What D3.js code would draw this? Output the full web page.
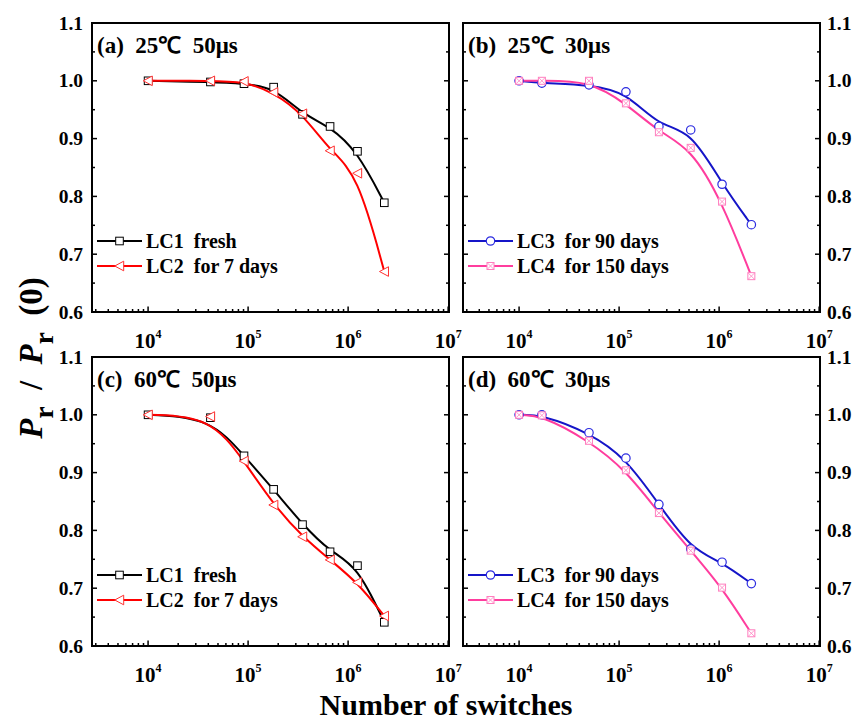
<!DOCTYPE html>
<html>
<head>
  <meta charset="UTF-8">
  <title>Pr / Pr(0) vs switches</title>
  <script src="https://d3js.org/d3.v7.min.js"></script>
  <style>
    body { margin: 0; background: #fff; }
    svg text { font-family: "Liberation Serif", "Times New Roman", serif; font-weight: bold; fill: #000; }
    .frame { fill: none; stroke: #000; stroke-width: 2; }
    .tick { stroke: #000; stroke-width: 1.5; }
  </style>
</head>
<body>
  <div id="chart"></div>
  <script>
    // data
    const switchesA = [1e4, 4.2e4, 9.1e4, 1.8e5, 3.5e5, 6.6e5, 1.24e6, 2.3e6];
    const switchesB = [1e4, 1.69e4, 5e4, 1.17e5, 2.5e5, 5.2e5, 1.07e6, 2.1e6];

    const lc1A = [1.000, 0.998, 0.995, 0.989, 0.942, 0.921, 0.878, 0.789];
    const lc2A = [1.000, 1.000, 0.999, 0.980, 0.943, 0.879, 0.840, 0.670];
    const lc3B = [1.000, 0.996, 0.993, 0.981, 0.921, 0.915, 0.821, 0.751];
    const lc4B = [1.000, 1.000, 1.000, 0.961, 0.911, 0.884, 0.791, 0.662];
    const lc1C = [1.000, 0.995, 0.929, 0.871, 0.810, 0.763, 0.739, 0.641];
    const lc2C = [1.000, 0.997, 0.920, 0.844, 0.789, 0.749, 0.710, 0.652];
    const lc3D = [1.000, 1.000, 0.969, 0.925, 0.845, 0.768, 0.745, 0.708];
    const lc4D = [1.000, 0.999, 0.955, 0.904, 0.830, 0.765, 0.701, 0.622];

    const xMajor = [1e4, 1e5, 1e6, 1e7];
    const xMajorExp = ["4", "5", "6", "7"];
    const yMajor = [0.6, 0.7, 0.8, 0.9, 1.0, 1.1];

    const panelTitles = ["(a)  25\u2103  50\u03bcs", "(b)  25\u2103  30\u03bcs", "(c)  60\u2103  50\u03bcs", "(d)  60\u2103  30\u03bcs"];
    const legendNames = ["LC1  fresh", "LC2  for 7 days", "LC3  for 90 days", "LC4  for 150 days"];

    const W = 854, H = 724;
    const cols = [92, 463], colW = 357;
    const rows = [23, 357], rowH = 289;

    const styles = {
      lc1: { color: "#000000", mark: "#000000", shape: "square" },
      lc2: { color: "#ff0000", mark: "#ff3030", shape: "triangle" },
      lc3: { color: "#1515c8", mark: "#2a2ae0", shape: "circle" },
      lc4: { color: "#ff3d9e", mark: "#ff7fbf", shape: "xsquare" }
    };

    const panels = [
      { col: 0, row: 0, title: panelTitles[0], side: "left",
        series: [{ key: "lc1", name: legendNames[0], x: switchesA, y: lc1A }, { key: "lc2", name: legendNames[1], x: switchesA, y: lc2A }] },
      { col: 1, row: 0, title: panelTitles[1], side: "right",
        series: [{ key: "lc3", name: legendNames[2], x: switchesB, y: lc3B }, { key: "lc4", name: legendNames[3], x: switchesB, y: lc4B }] },
      { col: 0, row: 1, title: panelTitles[2], side: "left",
        series: [{ key: "lc1", name: legendNames[0], x: switchesA, y: lc1C }, { key: "lc2", name: legendNames[1], x: switchesA, y: lc2C }] },
      { col: 1, row: 1, title: panelTitles[3], side: "right",
        series: [{ key: "lc3", name: legendNames[2], x: switchesB, y: lc3D }, { key: "lc4", name: legendNames[3], x: switchesB, y: lc4D }] }
    ];

    const svg = d3.select("#chart").append("svg")
      .attr("width", W).attr("height", H);

    const drawMarker = (g, shape, cx, cy, color) => {
      if (shape === "square") {
        g.append("rect").attr("x", cx - 3.8).attr("y", cy - 3.8).attr("width", 7.6).attr("height", 7.6)
          .attr("fill", "#fff").attr("stroke", color).attr("stroke-width", 1);
      } else if (shape === "triangle") {
        g.append("path").attr("d", `M${cx - 4.8},${cy} L${cx + 4.2},${cy - 4.8} L${cx + 4.2},${cy + 4.8} Z`)
          .attr("fill", "#fff").attr("stroke", color).attr("stroke-width", 1);
      } else if (shape === "circle") {
        g.append("circle").attr("cx", cx).attr("cy", cy).attr("r", 4.2)
          .attr("fill", "#fff").attr("stroke", color).attr("stroke-width", 1.2);
      } else {
        g.append("rect").attr("x", cx - 3.5).attr("y", cy - 3.5).attr("width", 7).attr("height", 7)
          .attr("fill", "#fff").attr("stroke", color).attr("stroke-width", 1);
        g.append("path").attr("d", `M${cx - 3},${cy - 3} L${cx + 3},${cy + 3} M${cx - 3},${cy + 3} L${cx + 3},${cy - 3}`)
          .attr("stroke", color).attr("stroke-width", 0.8);
      }
    };

    panels.forEach(p => {
      const x0 = cols[p.col], y0 = rows[p.row];
      const x = d3.scaleLog().domain([2750, 1.02e7]).range([x0, x0 + colW]);
      const y = d3.scaleLinear().domain([0.6, 1.1]).range([y0 + rowH, y0]);
      const g = svg.append("g");

      // ticks: y major + minor on both sides, inward
      const yMinor = d3.range(0.65, 1.1, 0.1);
      [x0, x0 + colW].forEach((ax, k) => {
        const dir = k === 0 ? 1 : -1;
        yMajor.forEach(v => g.append("line").attr("class", "tick")
          .attr("x1", ax).attr("x2", ax + dir * 5).attr("y1", y(v)).attr("y2", y(v)));
        yMinor.forEach(v => g.append("line").attr("class", "tick")
          .attr("x1", ax).attr("x2", ax + dir * 3).attr("y1", y(v)).attr("y2", y(v)));
      });

      // x ticks on bottom, inward
      const yb = y0 + rowH;
      const minor = [];
      [1e3, 1e4, 1e5, 1e6].forEach(d => d3.range(2, 10).forEach(m => {
        const v = d * m;
        if (v > x.domain()[0] && v < x.domain()[1]) minor.push(v);
      }));
      minor.forEach(v => g.append("line").attr("class", "tick")
        .attr("x1", x(v)).attr("x2", x(v)).attr("y1", yb).attr("y2", yb - 3));
      xMajor.forEach(v => g.append("line").attr("class", "tick")
        .attr("x1", x(v)).attr("x2", x(v)).attr("y1", yb).attr("y2", yb - 5.5));

      // x tick labels
      xMajor.forEach((v, i) => {
        const t = svg.append("text").attr("x", x(v)).attr("y", yb + 36)
          .attr("text-anchor", "middle").attr("font-size", 21);
        t.append("tspan").text("10");
        t.append("tspan").attr("dy", -10).attr("font-size", 12).text(xMajorExp[i]);
      });

      // y tick labels
      yMajor.forEach(v => {
        svg.append("text")
          .attr("x", p.side === "left" ? x0 - 9 : x0 + colW + 7)
          .attr("y", y(v) + 6.5)
          .attr("text-anchor", p.side === "left" ? "end" : "start")
          .attr("font-size", 19.5)
          .text(v.toFixed(1));
      });

      // curves
      const line = d3.line().curve(d3.curveBasis);
      p.series.forEach(s => {
        const st = styles[s.key];
        const pts = s.x.map((xv, i) => [x(xv), y(s.y[i])]);
        g.append("path").attr("d", line(pts)).attr("fill", "none")
          .attr("stroke", st.color).attr("stroke-width", 2);
      });
      p.series.forEach(s => {
        const st = styles[s.key];
        s.x.forEach((xv, i) => drawMarker(g, st.shape, x(xv), y(s.y[i]), st.mark));
      });

      // frame
      g.append("rect").attr("class", "frame")
        .attr("x", x0).attr("y", y0).attr("width", colW).attr("height", rowH);

      // panel title
      svg.append("text").attr("x", x0 + 5).attr("y", y0 + 30)
        .attr("font-size", 23).style("white-space", "pre").text(p.title);

      // legend
      p.series.forEach((s, i) => {
        const st = styles[s.key];
        const ly = y0 + 218 + i * 25;
        svg.append("line").attr("x1", x0 + 5).attr("x2", x0 + 50).attr("y1", ly).attr("y2", ly)
          .attr("stroke", st.color).attr("stroke-width", 2);
        drawMarker(svg, st.shape, x0 + 27.5, ly, st.mark);
        svg.append("text").attr("x", x0 + 54).attr("y", ly + 7)
          .attr("font-size", 20).style("white-space", "pre").text(s.name);
      });
    });

    // axis titles
    svg.append("text").attr("x", 446).attr("y", 715).attr("text-anchor", "middle")
      .attr("font-size", 30).text("Number of switches");

    const yt = svg.append("text").attr("transform", "translate(42,358) rotate(-90)")
      .attr("text-anchor", "middle").attr("font-size", 33).style("white-space", "pre");
    yt.append("tspan").attr("font-style", "italic").text("P");
    yt.append("tspan").attr("dy", 11).attr("font-size", 27).text("r");
    yt.append("tspan").attr("dy", -11).text("  /  ");
    yt.append("tspan").attr("font-style", "italic").text("P");
    yt.append("tspan").attr("dy", 11).attr("font-size", 27).text("r");
    yt.append("tspan").attr("dy", -11).text("  (0)");
  </script>
</body>
</html>
